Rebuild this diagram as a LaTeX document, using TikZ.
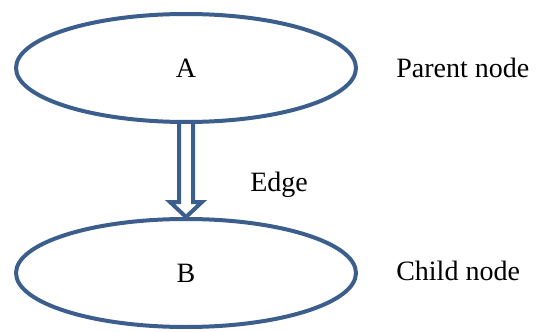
\documentclass[tikz,border=0pt]{standalone}
\usepackage{fontspec}
\setmainfont{Liberation Serif}
\usepackage{tikz}
\usetikzlibrary{shapes.geometric, calc, backgrounds}
\definecolor{nodeblue}{HTML}{3B5E8C}
\tikzstyle{treenode} = [ellipse, minimum width=255pt, minimum height=81pt, inner sep=0pt, draw=nodeblue, line width=3pt, text=black, font=\fontsize{21}{25}\selectfont]
\tikzstyle{caption} = [anchor=west, inner sep=0pt, text=black, font=\fontsize{21}{25}\selectfont]
\tikzstyle{edgearrow} = [draw=nodeblue, fill=white, line width=3pt, line join=miter]

\begin{document}
\begin{tikzpicture}[x=0.75pt, y=-0.75pt]
    \useasboundingbox (0,0) rectangle (536,332);
    % parent and child
    \node[treenode] (A) at (186,68) {A};
    \node[treenode] (B) at (186,273) {B};

    % hollow edge arrow, kept behind the ellipses
    \begin{scope}[on background layer]
        \draw[edgearrow] ($(A.south)+(-7,0)$) -- ($(B.north)+(-7,-15)$) -- ($(B.north)+(-16,-15)$)
            -- (B.north) -- ($(B.north)+(16,-15)$) -- ($(B.north)+(7,-15)$) -- ($(A.south)+(7,0)$);
    \end{scope}

    \node[caption] (parent) at (396,68) {Parent node};
    \node[caption] (edge) at (250,185) {Edge};
    \node[caption] (child) at (396,271) {Child node};
\end{tikzpicture}
\end{document}
